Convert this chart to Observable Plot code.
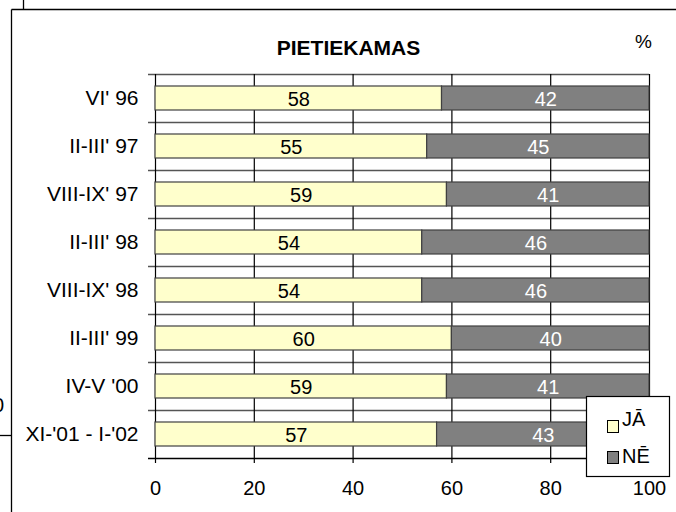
<!DOCTYPE html>
<html>
<head>
<meta charset="utf-8">
<script src="https://cdn.jsdelivr.net/npm/d3@7"></script>
<script src="https://cdn.jsdelivr.net/npm/@observablehq/plot@0.6"></script>
<style>
  html, body { margin: 0; padding: 0; background: #fff; }
  #wrap { position: relative; width: 676px; height: 512px; overflow: hidden; font-family: "Liberation Sans", Arial, sans-serif; }
  #overlay { position: absolute; left: 0; top: 0; pointer-events: none; }
</style>
</head>
<body>
<div id="wrap"></div>
<script>
// ---- data ----
const periods = ["VI' 96", "II-III' 97", "VIII-IX' 97", "II-III' 98", "VIII-IX' 98", "II-III' 99", "IV-V '00", "XI-'01 - I-'02"];
const yes = [58, 55, 59, 54, 54, 60, 59, 57];
const no  = [42, 45, 41, 46, 46, 40, 41, 43];
const answers = ["JĀ", "NĒ"];
const colors = ["#FFFFCC", "#808080"];
const xTicks = [0, 20, 40, 60, 80, 100];
const title = "PIETIEKAMAS";
const unit = "%";

const rows = [];
periods.forEach((p, i) => {
  rows.push({period: p, answer: answers[0], value: yes[i]});
  rows.push({period: p, answer: answers[1], value: no[i]});
});

const chart = Plot.plot({
  width: 676,
  height: 512,
  marginLeft: 155,
  marginRight: 27,
  marginTop: 74,
  marginBottom: 54,
  style: {fontFamily: "'Liberation Sans', Arial, sans-serif", fontSize: "20px", background: "transparent", color: "#000"},
  x: {domain: [0, 100]},
  y: {domain: periods, paddingInner: 0.5, paddingOuter: 0.25},
  color: {domain: answers, range: colors},
  marks: [
    // category boundary lines
    Plot.ruleY(periods, {y: d => d, dy: -24, insetLeft: -7, stroke: "#555", strokeWidth: 1.3}),
    Plot.ruleY(periods.slice(-1), {y: d => d, dy: 24, insetLeft: -7, stroke: "#000", strokeWidth: 1.3}),
    // vertical gridlines
    Plot.ruleX(xTicks, {stroke: "#000", strokeWidth: 1.2, insetBottom: -5}),
    // bars
    Plot.barX(rows, Plot.stackX({x: "value", y: "period", fill: "answer", stroke: "#404040", strokeWidth: 1.2})),
    // labels
    Plot.text(rows, Plot.stackX({x: "value", y: "period", z: "answer", text: d => d.answer === answers[0] ? String(d.value) : "", fill: "#000", fontSize: 20, dy: 1})),
    Plot.text(rows, Plot.stackX({x: "value", y: "period", z: "answer", text: d => d.answer === answers[1] ? String(d.value) : "", fill: "#fff", fontSize: 20, dy: 1})),
    Plot.axisX({ticks: xTicks, tickSize: 0, tickPadding: 22, label: null, fontSize: 20}),
    Plot.axisY({tickSize: 0, tickPadding: 17, label: null, fontSize: 21})
  ]
});

const wrap = document.getElementById("wrap");
wrap.appendChild(chart);

// decorations: outer frame fragments, title, unit, legend
const ns = "http://www.w3.org/2000/svg";
const ov = document.createElementNS(ns, "svg");
ov.setAttribute("id", "overlay");
ov.setAttribute("width", 676);
ov.setAttribute("height", 512);
function el(tag, attrs, text) {
  const e = document.createElementNS(ns, tag);
  for (const k in attrs) e.setAttribute(k, attrs[k]);
  if (text != null) e.textContent = text;
  ov.appendChild(e);
  return e;
}
const ff = "'Liberation Sans', Arial, sans-serif";
el("line", {x1: 11.5, y1: 9.5, x2: 676, y2: 9.5, stroke: "#000", "stroke-width": 1.3});
el("line", {x1: 11.5, y1: 9.5, x2: 11.5, y2: 512, stroke: "#000", "stroke-width": 1.3});
el("line", {x1: 23.5, y1: 0, x2: 23.5, y2: 9.5, stroke: "#000", "stroke-width": 1.3});
el("line", {x1: 0, y1: 435.5, x2: 11.5, y2: 435.5, stroke: "#000", "stroke-width": 1.3});
el("text", {x: 4, y: 412, "text-anchor": "end", "font-family": ff, "font-size": 20}, "0");
el("text", {x: 348.5, y: 55, "text-anchor": "middle", "font-family": ff, "font-size": 21, "font-weight": "bold"}, title);
el("text", {x: 635, y: 48, "font-family": ff, "font-size": 19}, unit);
// legend
el("rect", {x: 586.5, y: 396.5, width: 83, height: 80, fill: "#fff", stroke: "#000", "stroke-width": 1.2});
const ly = [420, 451], lb = [426, 463];
answers.forEach((a, i) => {
  el("rect", {x: 607.5, y: ly[i] + 0.5, width: 11, height: 12, fill: colors[i], stroke: "#000"});
  el("text", {x: 622, y: lb[i], "font-family": ff, "font-size": 20}, a);
});
wrap.appendChild(ov);
</script>
</body>
</html>
